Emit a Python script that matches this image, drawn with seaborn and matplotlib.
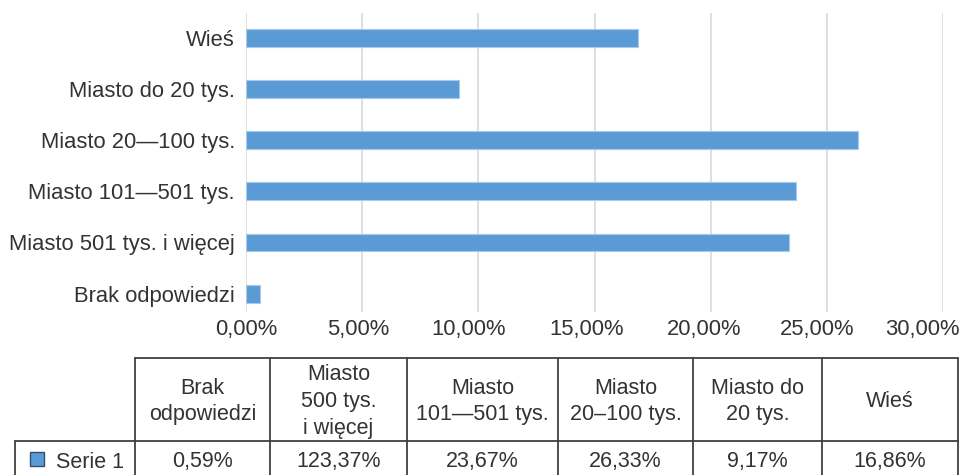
import matplotlib
matplotlib.use("Agg")
import matplotlib.pyplot as plt
import seaborn as sns
import pandas as pd
from matplotlib.ticker import FuncFormatter, FixedLocator
from matplotlib.lines import Line2D
from matplotlib.patches import Rectangle
from matplotlib.transforms import ScaledTranslation

# ---- data ----
categories = ["Wieś", "Miasto do 20 tys.", "Miasto 20\u2014100 tys.",
              "Miasto 101\u2014501 tys.", "Miasto 501 tys. i więcej", "Brak odpowiedzi"]
values = [16.86, 9.17, 26.33, 23.67, 23.37, 0.59]
x_ticks = [0, 5, 10, 15, 20, 25, 30]

table_headers = ["Brak\nodpowiedzi", "Miasto\n500 tys.\ni więcej", "Miasto\n101\u2014501 tys.",
                 "Miasto\n20\u2013100 tys.", "Miasto do\n20 tys.", "Wieś"]
table_values = ["0,59%", "123,37%", "23,67%", "26,33%", "9,17%", "16,86%"]
series_name = "Serie 1"

BAR = "#5B9BD5"
TXT = "#333333"
W, H = 963, 475

sns.set_theme(style="white")
plt.rcParams["font.family"] = ["Liberation Sans", "DejaVu Sans"]

fig = plt.figure(figsize=(W / 100, H / 100), dpi=100)

left, right, top, bottom = 246, 943, 13, 312
ax = fig.add_axes([left / W, 1 - bottom / H, (right - left) / W, (bottom - top) / H])

df = pd.DataFrame({"category": categories, "value": values})
sns.barplot(data=df, x="value", y="category", order=categories, color=BAR,
            width=0.35, saturation=1, edgecolor="#a8c8ec", linewidth=0.8, ax=ax)

ax.set_xlim(0, 30)
ax.set_ylim(5.36, -0.49)
ax.xaxis.set_major_locator(FixedLocator(x_ticks))
ax.xaxis.set_major_formatter(FuncFormatter(lambda v, p: f"{v:.2f}".replace(".", ",") + "%"))
ax.grid(axis="x", color="#d9d9d9", linewidth=1.2)
ax.set_axisbelow(True)
for s in ax.spines.values():
    s.set_visible(False)
ax.set_xlabel("")
ax.set_ylabel("")
ax.tick_params(axis="both", length=0, labelsize=15.8, colors=TXT)
ax.tick_params(axis="y", pad=8)
ax.tick_params(axis="x", pad=5)

# small horizontal nudges of the x tick labels (as in the reference rendering)
label_shift_px = [0, -4, -10, -8, -7, -10, -21]
fig.canvas.draw()
for lab, off in zip(ax.get_xticklabels(), label_shift_px):
    lab.set_transform(lab.get_transform() + ScaledTranslation(off / 100, 0, fig.dpi_scale_trans))

# ---- data table overlay in pixel coordinates ----
tax = fig.add_axes([0, 0, 1, 1], facecolor="none")
tax.set_xlim(0, W)
tax.set_ylim(H, 0)
tax.axis("off")

lc = "#404040"
lw = 1.3
cols = [135, 270, 407, 558, 693, 822, 958]
y_top, y_mid, y_bot = 358, 441, 476
tax.add_line(Line2D([cols[0], cols[-1]], [y_top, y_top], color=lc, lw=lw))
tax.add_line(Line2D([15, cols[-1]], [y_mid, y_mid], color=lc, lw=lw))
tax.add_line(Line2D([15, 15], [y_mid, y_bot], color=lc, lw=lw))
for x in cols:
    tax.add_line(Line2D([x, x], [y_top, y_bot], color=lc, lw=lw))

for i, (h, v) in enumerate(zip(table_headers, table_values)):
    cx = (cols[i] + cols[i + 1]) / 2
    tax.text(cx, (y_top + y_mid) / 2 + 2, h, ha="center", va="center",
             fontsize=15.5, color=TXT, linespacing=1.36)
    tax.text(cx, 462, v, ha="center", va="center", fontsize=15.5, color=TXT)

tax.add_patch(Rectangle((30, 452), 14, 14, facecolor=BAR, edgecolor="#2f4f6f", lw=1))
tax.text(56, 462, series_name, ha="left", va="center", fontsize=15.5, color=TXT)

fig.savefig("out.png", dpi=100)
